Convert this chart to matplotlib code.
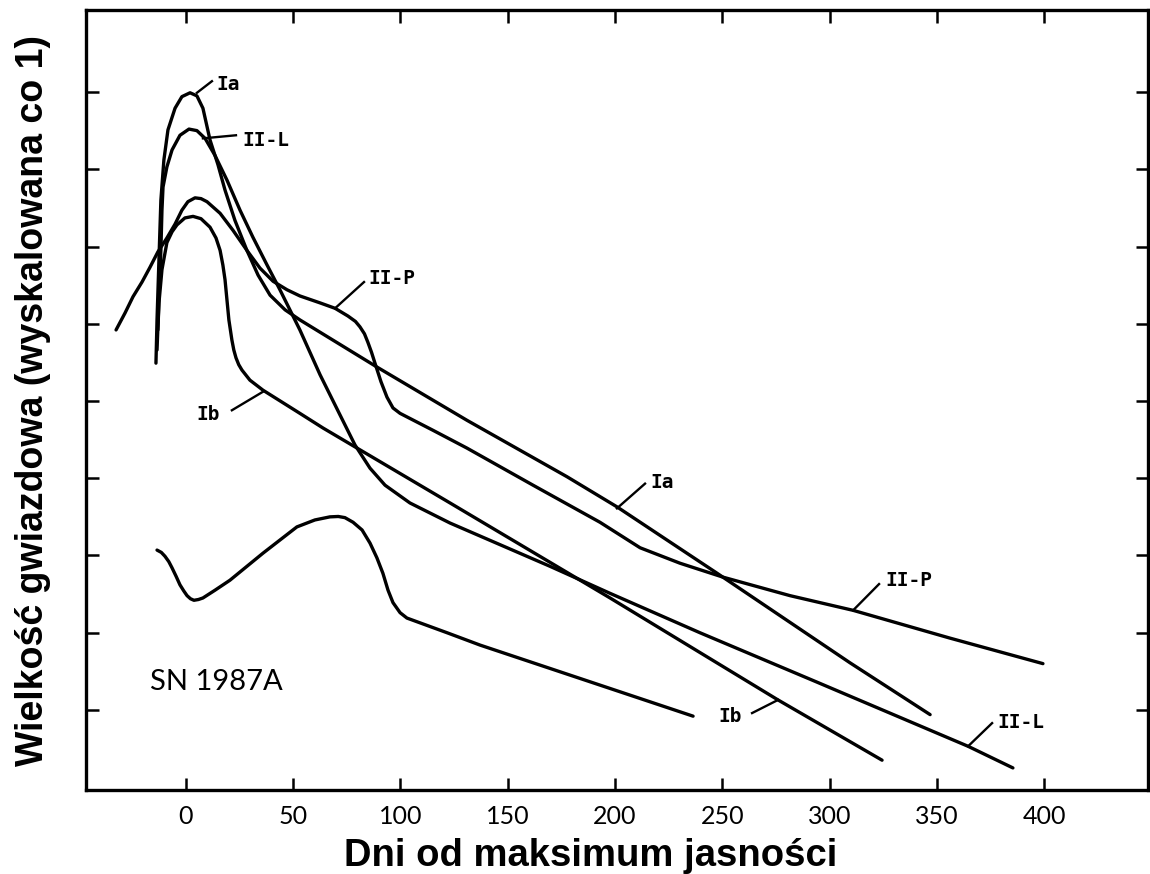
import matplotlib
matplotlib.use('Agg')
import matplotlib.pyplot as plt
import numpy as np

# Krzywe blasku (dni od maksimum, wielkosc gwiazdowa wzgledem gornej kreski)
ia_days = [-14.0, -13.5, -12.6, -11.7, -10.3, -8.4, -5.1, -1.9, 1.9, 5.1, 7.9, 11.2, 14.9, 18.2,
           22.8, 28.4, 33.6, 39.2, 46.2, 53.1, 89.0, 131.0, 177.6, 200.9, 247.6, 309.6, 346.9]
ia_mag  = [3.51, 2.95, 2.17, 1.40, 0.88, 0.49, 0.21, 0.06, 0.01, 0.05, 0.21, 0.62, 0.94, 1.27,
           1.66, 2.05, 2.37, 2.63, 2.82, 2.95, 3.56, 4.25, 4.98, 5.37, 6.23, 7.39, 8.06]

iil_days = [-13.5, -12.6, -11.7, -11.2, -10.7, -8.9, -6.5, -2.8, 1.4, 5.1, 8.9, 13.5, 19.1, 25.2,
            31.2, 37.8, 43.8, 53.1, 62.5, 71.8, 78.8, 85.8, 92.8, 104.4, 123.1, 146.4, 169.7,
            197.7, 239.6, 294.2, 364.6, 385.5]
iil_mag  = [3.34, 2.69, 2.05, 1.53, 1.23, 0.97, 0.75, 0.56, 0.48, 0.50, 0.60, 0.82, 1.14, 1.53,
            1.88, 2.24, 2.56, 3.08, 3.66, 4.18, 4.57, 4.87, 5.09, 5.32, 5.58, 5.86, 6.14,
            6.49, 7.00, 7.64, 8.47, 8.75]

iip_days = [-32.6, -28.4, -24.7, -20.5, -16.8, -13.1, -8.9, -5.1, -1.9, 0.9, 4.2, 7.0, 9.8, 15.9,
            21.9, 28.4, 34.5, 40.6, 47.1, 53.1, 62.5, 69.5, 75.5, 79.0, 81.1, 83.2, 84.8, 86.5,
            88.1, 90.9, 93.7, 96.5, 99.8, 115.2, 131.0, 161.8, 193.0, 211.7, 230.3, 250.3,
            281.6, 311.0, 356.2, 399.5]
iip_mag  = [3.08, 2.86, 2.65, 2.46, 2.27, 2.07, 1.89, 1.71, 1.53, 1.42, 1.37, 1.38, 1.42, 1.57,
            1.79, 2.05, 2.28, 2.45, 2.56, 2.64, 2.73, 2.80, 2.90, 2.97, 3.04, 3.13, 3.24, 3.37,
            3.51, 3.75, 3.95, 4.09, 4.16, 4.38, 4.61, 5.09, 5.57, 5.90, 6.10, 6.28,
            6.52, 6.71, 7.07, 7.40]

ib_days = [-13.1, -12.6, -11.2, -8.9, -6.5, -4.2, -0.5, 3.3, 7.0, 11.2, 14.0, 15.9, 17.2, 18.2,
           19.1, 20.0, 21.4, 22.3, 23.3, 24.6, 26.1, 29.8, 35.9, 53.1, 63.9, 123.1, 197.7, 276.0,
           324.5]
ib_mag  = [3.08, 2.73, 2.30, 1.95, 1.81, 1.72, 1.63, 1.61, 1.64, 1.75, 1.89, 2.05, 2.24, 2.43,
           2.69, 2.95, 3.21, 3.34, 3.44, 3.53, 3.60, 3.73, 3.86, 4.16, 4.35, 5.32, 6.55, 7.87,
           8.65]

sn_days = [-13.5, -11.5, -9.8, -8.0, -6.5, -4.6, -2.8, -1.0, 0.5, 2.1, 3.7, 5.8, 7.9, 13.5, 20.5,
           35.9, 51.7, 60.1, 67.1, 71.0, 74.1, 77.9, 82.1, 85.8, 89.0, 91.8, 94.2, 96.5, 99.8,
           103.0, 121.7, 137.1, 236.4]
sn_mag  = [5.93, 5.96, 6.01, 6.08, 6.16, 6.27, 6.38, 6.46, 6.52, 6.56, 6.58, 6.57, 6.55, 6.45, 6.32,
           5.97, 5.63, 5.54, 5.50, 5.495, 5.51, 5.57, 5.67, 5.84, 6.03, 6.23, 6.45, 6.61, 6.74,
           6.81, 7.00, 7.16, 8.08]

# Opisy krzywych: tekst, pozycja tekstu, odcinek wskazujacy
etykiety = ['Ia', 'II-L', 'II-P', 'Ib', 'Ia', 'II-P', 'Ib', 'II-L']
etyk_xy  = [(14.0, -0.10), (26.1, 0.63), (84.8, 2.42), (4.7, 4.18),
            (216.3, 5.05), (325.9, 6.32), (248.0, 8.09), (378.1, 8.16)]
wskazniki = [((5.1, 0.01), (12.1, -0.14)), ((7.9, 0.60), (23.3, 0.56)),
             ((69.5, 2.80), (83.0, 2.46)), ((35.9, 3.88), (21.4, 4.12)),
             ((200.9, 5.39), (214.0, 5.07)), ((311.0, 6.71), (323.1, 6.37)),
             ((276.0, 7.87), (263.9, 8.04)), ((364.6, 8.47), (375.8, 8.17))]

x_ticks = [0, 50, 100, 150, 200, 250, 300, 350, 400]
y_ticks = [0, 1, 2, 3, 4, 5, 6, 7, 8]

fig = plt.figure(figsize=(11.5, 8.74), dpi=100)
ax = fig.add_axes([0.0748, 0.0961, 0.9235, 0.8924])

kw = dict(color='black', lw=2.4, solid_capstyle='round', solid_joinstyle='round')
ax.plot(ia_days , ia_mag , **kw)
ax.plot(iil_days, iil_mag, **kw)
ax.plot(iip_days, iip_mag, **kw)
ax.plot(ib_days , ib_mag , **kw)
ax.plot(sn_days , sn_mag , **kw)

for txt, (tx, ty), (p0, p1) in zip(etykiety, etyk_xy, wskazniki):
    ax.plot([p0[0], p1[0]], [p0[1], p1[1]], color='black', lw=1.7)
    ax.text(tx, ty, txt, ha='left', va='center', fontsize=14,
            family='DejaVu Sans Mono', weight='bold')

ax.text(-16.8, 7.64, 'SN 1987A', ha='left', va='center', fontsize=21, family='Lato')

ax.set_xlim(-46.6, 448.5)
ax.set_ylim(9.036, -1.061)

ax.set_xticks(x_ticks)
ax.set_yticks(y_ticks)
ax.set_yticklabels([])
ax.tick_params(axis='both', direction='in', length=9, width=1.8,
               top=True, right=True)
ax.tick_params(axis='x', labelsize=18, pad=11)
for lab in ax.get_xticklabels():
    lab.set_family('Lato')
for s in ax.spines.values():
    s.set_linewidth(2.4)

ax.set_xlabel('Dni od maksimum jasności', fontsize=27.5, weight='bold',
              family='Liberation Sans')
ax.xaxis.set_label_coords(0.4755, -0.0615)
ax.set_ylabel('Wielkość gwiazdowa (wyskalowana co 1)', fontsize=27, weight='bold',
              family='Liberation Sans', labelpad=22)

fig.savefig('out.png', dpi=100)
